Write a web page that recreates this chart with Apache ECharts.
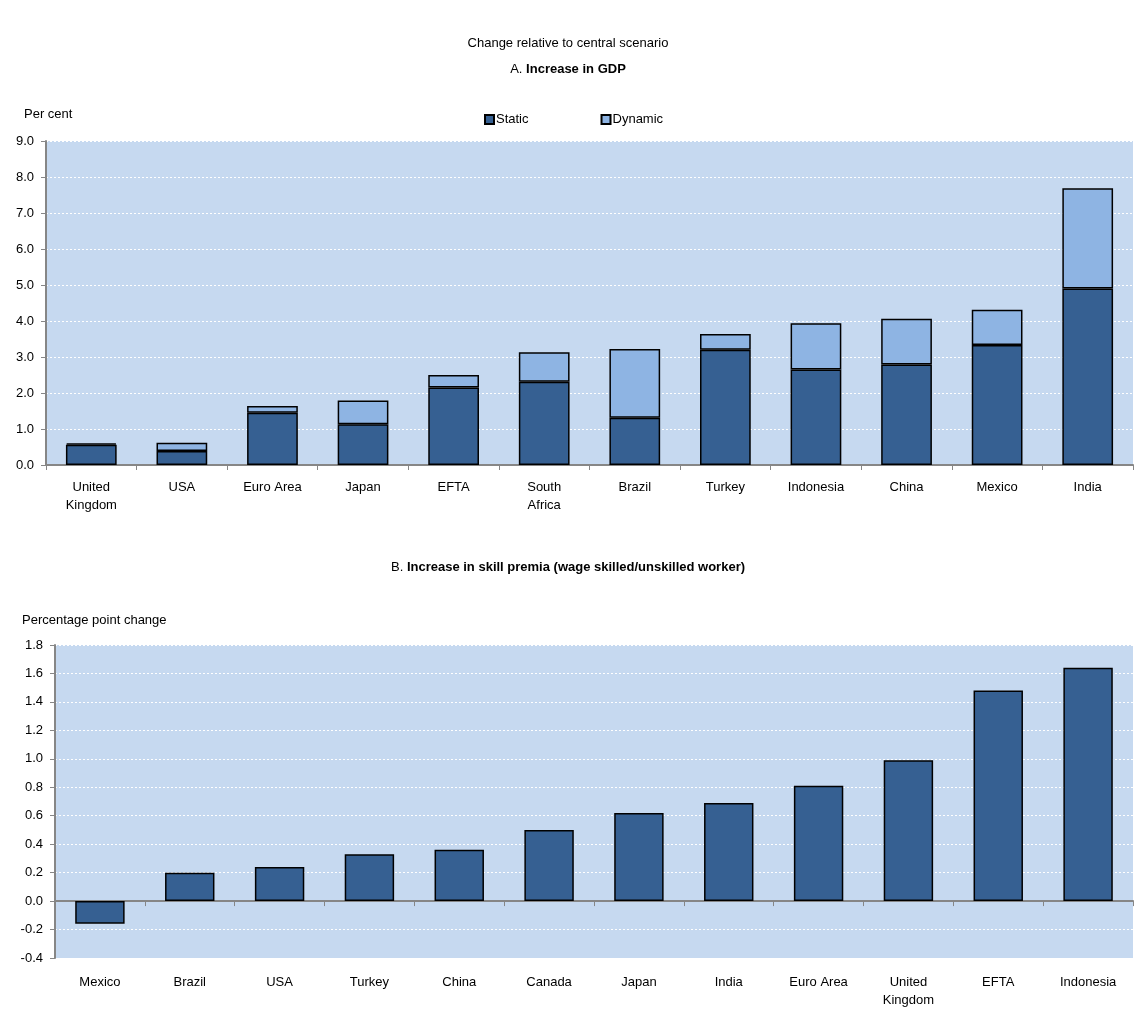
<!DOCTYPE html>
<html><head><meta charset="utf-8">
<script src="https://cdn.jsdelivr.net/npm/echarts@6/dist/echarts.min.js"></script>
<style>html,body{margin:0;padding:0;background:#fff}#c{width:1136px;height:1009px}</style>
</head><body><div id="c"></div>
<script>
const gdpCategories = ['United\nKingdom','USA','Euro Area','Japan','EFTA','South\nAfrica','Brazil','Turkey','Indonesia','China','Mexico','India'];
const gdpStatic = [0.56,0.39,1.45,1.13,2.15,2.31,1.31,3.20,2.65,2.79,3.33,4.90];
const gdpDynamic = [0.04,0.23,0.19,0.66,0.35,0.82,1.91,0.44,1.29,1.27,0.98,2.79];
const skillCategories = ['Mexico','Brazil','USA','Turkey','China','Canada','Japan','India','Euro Area','United\nKingdom','EFTA','Indonesia'];
const skillValues = [-0.16,0.20,0.24,0.33,0.36,0.50,0.62,0.69,0.81,0.99,1.48,1.64];

const FONT = 'Liberation Sans, Arial, sans-serif';
const darkBlue = '#366092';
const lightBlue = '#8EB4E3';
const plotBg = '#C6D9F0';
const axisGrey = '#868686';

const chart = echarts.init(document.getElementById('c'));
const txt = {fontFamily: FONT, fontSize: 13, color: '#000'};
const gridLine = {show: true, lineStyle: {color: '#ffffff', type: [2, 2], width: 1}};
const richTitle = {
  n: {fontFamily: FONT, fontSize: 13, fontWeight: 'normal', color: '#000'},
  b: {fontFamily: FONT, fontSize: 13, fontWeight: 'bold', color: '#000'}
};

chart.setOption({
  animation: false,
  textStyle: {fontFamily: FONT},
  title: [
    {text: 'Change relative to central scenario', left: 'center', top: 32, textStyle: {fontFamily: FONT, fontSize: 13, fontWeight: 'normal', color: '#000'}},
    {text: '{n|A. }{b|Increase in GDP}', left: 'center', top: 58, textStyle: {fontWeight: 'normal', rich: richTitle}},
    {text: 'Per cent', left: 19, top: 103, textStyle: {fontFamily: FONT, fontSize: 13, fontWeight: 'normal', color: '#000'}},
    {text: '{n|B. }{b|Increase in skill premia (wage skilled/unskilled worker)}', left: 'center', top: 556, textStyle: {fontWeight: 'normal', rich: richTitle}},
    {text: 'Percentage point change', left: 17, top: 609, textStyle: {fontFamily: FONT, fontSize: 13, fontWeight: 'normal', color: '#000'}}
  ],
  legend: {
    left: 479, top: 108, itemWidth: 9, itemHeight: 9, itemGap: 72, icon: 'rect',
    data: ['Static', 'Dynamic'],
    textStyle: {fontFamily: FONT, fontSize: 13, color: '#000', padding: [0, 0, 0, -3]}
  },
  grid: [
    {left: 46, right: 3, top: 141, height: 324, show: true, backgroundColor: plotBg, borderWidth: 0},
    {left: 55, right: 3, top: 645, height: 316, show: true, backgroundColor: plotBg, borderWidth: 0}
  ],
  xAxis: [
    {gridIndex: 0, type: 'category', data: gdpCategories,
     axisLine: {lineStyle: {color: axisGrey, width: 2}},
     axisTick: {show: true, length: 5, lineStyle: {color: axisGrey, width: 1}},
     axisLabel: Object.assign({margin: 13, lineHeight: 18}, txt)},
    {gridIndex: 1, type: 'category', data: skillCategories, position: 'bottom',
     axisLine: {show: false, onZero: false}, axisTick: {show: false},
     axisLabel: Object.assign({margin: 15, lineHeight: 18}, txt)},
    {gridIndex: 1, type: 'category', data: skillCategories, position: 'bottom',
     axisLine: {show: true, onZero: true, lineStyle: {color: axisGrey, width: 2}},
     axisTick: {show: true, length: 5, lineStyle: {color: axisGrey, width: 1}},
     axisLabel: {show: false}}
  ],
  yAxis: [
    {gridIndex: 0, type: 'value', min: 0, max: 9, interval: 1,
     axisLine: {show: true, lineStyle: {color: axisGrey, width: 2}},
     axisTick: {show: true, length: 5, lineStyle: {color: axisGrey}},
     axisLabel: Object.assign({margin: 12, formatter: v => v.toFixed(1)}, txt),
     splitLine: gridLine},
    {gridIndex: 1, type: 'value', min: -0.4, max: 1.8, interval: 0.2,
     axisLine: {show: true, onZero: false, lineStyle: {color: axisGrey, width: 2}},
     axisTick: {show: true, length: 5, lineStyle: {color: axisGrey}},
     axisLabel: Object.assign({margin: 12, formatter: v => v.toFixed(1)}, txt),
     splitLine: gridLine}
  ],
  series: [
    {name: 'Static', type: 'bar', stack: 'gdp', xAxisIndex: 0, yAxisIndex: 0, data: gdpStatic, barWidth: '56%',
     itemStyle: {color: darkBlue, borderColor: '#000', borderWidth: 1.5}},
    {name: 'Dynamic', type: 'bar', stack: 'gdp', xAxisIndex: 0, yAxisIndex: 0, data: gdpDynamic, barWidth: '56%',
     itemStyle: {color: lightBlue, borderColor: '#000', borderWidth: 1.5}},
    {name: 'Skill', type: 'bar', xAxisIndex: 1, yAxisIndex: 1, data: skillValues, barWidth: '55%',
     itemStyle: {color: darkBlue, borderColor: '#000', borderWidth: 1.5}}
  ]
});
</script></body></html>
